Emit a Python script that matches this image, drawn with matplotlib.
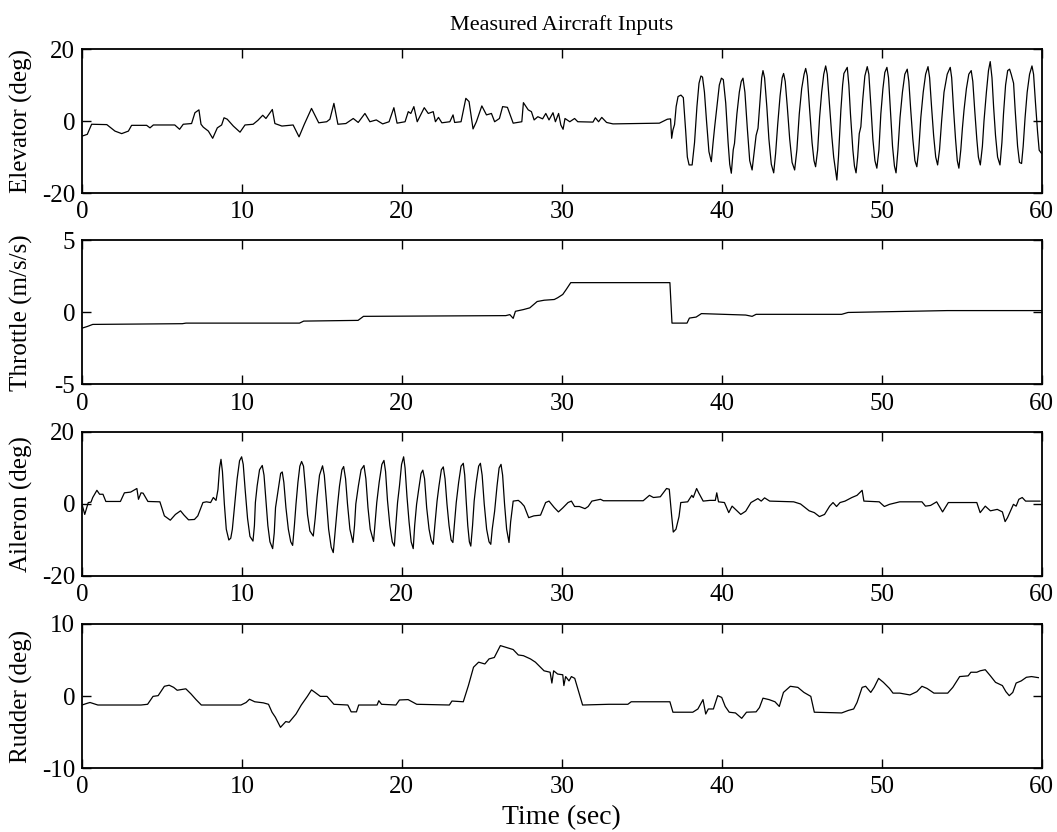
import numpy as np
import matplotlib.pyplot as plt

# 読み取った値 (time sec, value)
elevator_pts = [
    (0, -4.2), (0.33, -3.7), (0.6, -0.9), (1.55, -1.0), (2.06, -2.8), (2.48, -3.5), (2.9, -2.8),
    (3.1, -1.2), (4.04, -1.2), (4.25, -1.9), (4.46, -1.1), (5.8, -1.1), (6.1, -2.3), (6.33, -0.9),
    (6.85, -0.7), (7.06, 2.3), (7.31, 3.1), (7.44, -0.9), (7.58, -1.7), (7.9, -2.8), (8.17, -4.8),
    (8.46, -1.9), (8.73, -1.1), (8.88, 0.9), (9.08, 0.5), (9.46, -1.4), (9.88, -3.1), (10.19, -1.1),
    (10.7, -0.9), (11.0, 0.2), (11.3, 1.6), (11.5, 0.7), (11.9, 3.2), (12.06, -0.7), (12.5, -1.4),
    (13.2, -1.1), (13.57, -4.4), (13.9, -0.9), (14.35, 3.5), (14.8, -0.5), (15.3, -0.2), (15.5, 0.5),
    (15.75, 4.9), (16.0, -0.9), (16.5, -0.7), (16.96, 0.7), (17.27, -0.4), (17.69, 2.1), (18.0, -0.2),
    (18.4, 0.3), (18.8, -0.8), (19.2, -0.2), (19.5, 3.7), (19.7, -0.6), (20.2, -0.2), (20.4, 2.6),
    (20.56, 2.1), (20.75, 4.0), (20.96, -0.2), (21.4, 3.7), (21.65, 2.1), (21.96, 2.6), (22.1, -0.2),
    (22.29, 1.0), (22.5, -0.5), (23.0, -0.2), (23.2, 1.7), (23.3, -0.4), (23.7, -0.2), (24.0, 6.3),
    (24.2, 5.4), (24.45, -2.2), (24.66, -0.2), (25.0, 4.2), (25.29, 1.7), (25.6, 2.1), (25.8, -0.2),
    (26.1, 0.7), (26.3, 4.0), (26.6, 3.8), (26.96, -0.6), (27.5, -0.2), (27.6, 5.1), (27.9, 3.1),
    (28.1, 2.6), (28.27, 0.3), (28.5, 1.2), (28.8, 0.6), (29.0, 2.1), (29.2, 0.3), (29.45, 2.3),
    (29.6, -0.2), (29.8, 2.1), (29.94, -1.1), (30.08, -2.3), (30.2, 0.7), (30.5, -0.2), (30.8, 0.7),
    (31.0, -0.2), (31.95, -0.3), (32.1, 0.9), (32.3, -0.2), (32.5, 1.0), (32.8, -0.4), (33.2, -0.8),
    (36.1, -0.6), (36.6, 0.5), (36.8, 0.6), (36.87, -4.8), (36.95, -2.5), (37.05, -1.0), (37.15, 4.0),
    (37.27, 6.8), (37.45, 7.2), (37.6, 6.5), (37.75, -3), (37.85, -10), (37.96, -12.2), (38.15, -12.2),
    (38.3, -6), (38.45, 4), (38.58, 10.5), (38.7, 12.5), (38.8, 12.2), (38.92, 8), (39.05, 0),
    (39.2, -8.5), (39.35, -11.3), (39.46, -6), (39.56, -1.6), (39.7, 4), (39.85, 10), (39.98, 11.9),
    (40.1, 11.5), (40.25, 5), (40.4, -6), (40.5, -12), (40.6, -14.5), (40.72, -8), (40.8, -6.2),
    (40.95, 2), (41.1, 8), (41.22, 11), (41.33, 11.9), (41.45, 8), (41.6, -2), (41.75, -11),
    (41.9, -13.6), (42.02, -9), (42.15, -4), (42.27, -2), (42.4, 6), (42.5, 12), (42.58, 14.0),
    (42.68, 12), (42.82, 4), (42.95, -5), (43.1, -12), (43.25, -14.4), (43.37, -9), (43.5, -1),
    (43.65, 7), (43.78, 12), (43.87, 13.2), (43.97, 11), (44.1, 4), (44.25, -5), (44.4, -11.5),
    (44.56, -13.6), (44.7, -8), (44.85, 2), (45.0, 9), (45.15, 13), (45.25, 14.6), (45.35, 12.5),
    (45.5, 3), (45.65, -6), (45.77, -11), (45.87, -12.7), (46.0, -8), (46.12, 1), (46.25, 8),
    (46.38, 13), (46.5, 15.3), (46.6, 13), (46.73, 5), (46.88, -4), (47.0, -10), (47.2, -16.4),
    (47.3, -10), (47.45, 3), (47.56, 10), (47.64, 13.2), (47.85, 14.9), (47.95, 10), (48.05, 2),
    (48.2, -8), (48.3, -12.5), (48.4, -14.4), (48.5, -10), (48.6, -3.5), (48.7, -1.6), (48.82, 6),
    (48.95, 12.5), (49.1, 15.1), (49.2, 13), (49.33, 4), (49.45, -5), (49.58, -11), (49.7, -13.1),
    (49.83, -8), (49.95, 2), (50.08, 9), (50.2, 13.5), (50.33, 14.9), (50.43, 12), (50.55, 3),
    (50.68, -7), (50.8, -12.5), (50.9, -14.4), (51.02, -8), (51.15, 1), (51.3, 8), (51.45, 13),
    (51.6, 14.4), (51.7, 11), (51.82, 3), (51.95, -5), (52.08, -11), (52.2, -12.7), (52.32, -8),
    (52.45, 1), (52.6, 8), (52.75, 13), (52.9, 15.1), (53.0, 12), (53.12, 4), (53.25, -4),
    (53.38, -10), (53.5, -12.2), (53.62, -8), (53.75, 0), (53.9, 8), (54.1, 13), (54.29, 14.9),
    (54.38, 12), (54.5, 3), (54.62, -5), (54.73, -11), (54.83, -13.1), (54.95, -8), (55.05, -2),
    (55.15, 3), (55.3, 9), (55.45, 13), (55.6, 14.0), (55.7, 11), (55.82, 3), (55.95, -5),
    (56.05, -10), (56.17, -12.2), (56.3, -7), (56.4, 0), (56.55, 8), (56.68, 14), (56.79, 16.5),
    (56.9, 12), (57.0, 4), (57.12, -4), (57.25, -10), (57.4, -12.2), (57.52, -6), (57.62, 2),
    (57.75, 10), (57.88, 14), (58.0, 14.4), (58.1, 13), (58.25, 10.5), (58.35, 3), (58.5, -7),
    (58.62, -11.5), (58.75, -11.8), (58.85, -7), (58.97, 1), (59.1, 8), (59.25, 13), (59.4, 15.3),
    (59.5, 13), (59.62, 5), (59.75, -3), (59.85, -8.1), (60.0, -9),
]

throttle_pts = [
    (0, -1.09), (0.34, -0.97), (0.67, -0.83), (6.27, -0.78), (6.5, -0.74), (13.6, -0.74),
    (13.86, -0.6), (17.26, -0.55), (17.6, -0.27), (26.5, -0.22), (26.75, -0.15), (26.96, -0.41),
    (27.1, 0.08), (27.6, 0.2), (28.0, 0.32), (28.46, 0.76), (28.9, 0.85), (29.53, 0.9),
    (29.74, 1.02), (30.06, 1.25), (30.28, 1.6), (30.56, 2.07), (36.76, 2.07), (36.89, -0.74),
    (37.83, -0.74), (37.98, -0.39), (38.4, -0.32), (38.73, -0.08), (41.5, -0.18), (41.9, -0.27),
    (42.15, -0.13), (47.5, -0.13), (47.9, 0.0), (54.1, 0.13), (60.0, 0.13),
]

aileron_pts = [
    (0, -0.1), (0.17, -2.9), (0.39, 0.4), (0.56, 0.5), (0.67, 1.8), (0.93, 3.8), (1.1, 2.7),
    (1.31, 2.7), (1.49, 0.7), (2.4, 0.7), (2.65, 3.1), (3.04, 3.3), (3.43, 4.3), (3.53, 1.3),
    (3.69, 3.1), (3.82, 3.0), (4.12, 0.7), (4.87, 0.6), (5.15, -3.3), (5.52, -4.5), (5.84, -2.9),
    (6.16, -1.9), (6.38, -3.1), (6.66, -4.4), (7.03, -4.3), (7.24, -3.3), (7.56, 0.4), (7.78, 0.6),
    (8.04, 0.4), (8.21, 1.8), (8.38, 1.0), (8.5, 4), (8.6, 10), (8.69, 12.4), (8.78, 9), (8.9, 0),
    (9.02, -7), (9.18, -10), (9.3, -9.5), (9.4, -7), (9.55, 0), (9.7, 7), (9.85, 12), (9.98, 13.1),
    (10.08, 11), (10.2, 4), (10.35, -4), (10.5, -9), (10.69, -10.3), (10.78, -6), (10.84, 0.4),
    (10.95, 5), (11.1, 9.5), (11.27, 10.7), (11.38, 8), (11.5, 1), (11.62, -6), (11.75, -10.5),
    (11.92, -12.4), (12.02, -8), (12.1, -1), (12.16, 0.8), (12.3, 5), (12.42, 8.5), (12.52, 8.9),
    (12.62, 6), (12.75, -1), (12.9, -7), (13.05, -10.5), (13.17, -11.5), (13.28, -6), (13.38, 0),
    (13.5, 6), (13.62, 10.5), (13.73, 11.8), (13.85, 10.5), (13.98, 4), (14.1, -3), (14.25, -7.5),
    (14.46, -8.9), (14.58, -4), (14.7, 2), (14.85, 8), (15.04, 10.6), (15.15, 8), (15.28, 1),
    (15.42, -7), (15.58, -12), (15.71, -13.5), (15.82, -8), (15.97, -0.6), (16.1, 5), (16.25, 9.5),
    (16.36, 10.4), (16.48, 7), (16.6, 0), (16.75, -7), (16.94, -10.7), (17.04, -6), (17.12, 0),
    (17.28, 5), (17.45, 9.5), (17.63, 10.7), (17.75, 7), (17.88, -1), (18.02, -7), (18.23, -10.4),
    (18.33, -5), (18.43, 0.4), (18.58, 6), (18.75, 11), (18.88, 12.1), (18.98, 9), (19.1, 1),
    (19.25, -6), (19.4, -10.5), (19.53, -11.7), (19.62, -6), (19.73, 0.4), (19.85, 5), (19.98, 11),
    (20.11, 13.1), (20.2, 10), (20.32, 2), (20.45, -5), (20.58, -10.5), (20.71, -12.4), (20.8, -6),
    (20.92, -0.1), (21.05, 4), (21.2, 8.5), (21.31, 9.4), (21.42, 7), (21.55, -1), (21.7, -7),
    (21.83, -10), (21.96, -11.2), (22.06, -6), (22.2, 0.8), (22.32, 5), (22.47, 9.5), (22.59, 10.3),
    (22.7, 7), (22.82, 0), (22.95, -6), (23.08, -10), (23.19, -10.7), (23.3, -5), (23.4, 0.4),
    (23.55, 6), (23.7, 10.5), (23.84, 11.3), (23.93, 8), (24.02, 1), (24.12, -6), (24.22, -10.5),
    (24.31, -11.7), (24.42, -6), (24.52, 0.8), (24.65, 6), (24.8, 10.5), (24.91, 11.3), (25.02, 8),
    (25.15, 0), (25.3, -7), (25.45, -10.5), (25.56, -11.2), (25.65, -7), (25.8, -2), (25.95, 5),
    (26.08, 10), (26.2, 11), (26.3, 8), (26.42, 0), (26.55, -7), (26.7, -10.7), (26.8, -5),
    (26.96, 0.8), (27.28, 1.0), (27.45, 0.4), (27.65, -0.6), (27.93, -3.8), (28.25, -3.3),
    (28.67, -3.1), (28.99, 0.4), (29.2, 0.8), (29.53, -1.0), (29.79, -2.2), (30.06, -1.1),
    (30.39, 0.4), (30.6, 0.8), (30.8, -0.7), (31.1, -0.7), (31.45, -1.3), (31.65, -0.7),
    (31.88, 0.8), (32.42, 1.3), (32.6, 0.9), (35.09, 0.9), (35.48, 2.4), (35.73, 1.8), (36.16, 2.0),
    (36.55, 4.3), (36.72, 4.1), (36.87, -3.3), (36.97, -7.8), (37.14, -7.0), (37.33, -3.5),
    (37.44, 0.4), (37.87, 0.6), (38.13, 2.4), (38.22, 1.8), (38.43, 4.3), (38.56, 3.1), (38.84, 0.8),
    (39.26, 1.0), (39.6, 1.0), (39.69, 3.1), (39.8, 0.6), (40.17, 0.4), (40.44, -2.4), (40.65, -0.6),
    (40.86, -1.5), (41.19, -2.9), (41.5, -2.0), (41.83, 0.4), (42.26, 1.5), (42.47, 0.8),
    (42.68, 1.7), (43.0, 0.8), (44.5, 0.6), (44.93, 0.0), (45.47, -1.9), (45.79, -2.4),
    (46.11, -3.5), (46.43, -2.9), (46.75, -0.6), (46.96, 0.4), (47.18, -0.7), (47.4, 0.4),
    (47.71, 0.8), (48.14, 1.8), (48.46, 2.4), (48.78, 3.8), (48.89, 0.8), (49.85, 0.6),
    (50.17, -0.7), (50.49, -0.1), (51.13, 0.6), (52.52, 0.6), (52.74, -0.6), (53.06, -0.4),
    (53.44, 0.6), (53.81, -2.2), (54.17, 0.4), (55.95, 0.4), (56.16, -2.4), (56.48, -0.6),
    (56.8, -1.9), (57.23, -1.5), (57.55, -2.2), (57.72, -4.9), (57.87, -3.8), (58.24, -0.1),
    (58.41, -0.6), (58.58, 1.3), (58.79, 1.8), (59.0, 0.8), (59.9, 0.8),
]

rudder_pts = [
    (0, -1.25), (0.34, -1.0), (0.5, -0.9), (0.78, -1.1), (0.99, -1.25), (3.69, -1.25), (4.1, -1.15),
    (4.44, -0.05), (4.76, 0.05), (5.15, 1.35), (5.45, 1.5), (5.73, 1.2), (5.95, 0.8), (6.49, 1.0),
    (6.81, 0.3), (7.13, -0.5), (7.46, -1.25), (9.94, -1.25), (10.26, -0.9), (10.47, -0.45),
    (10.8, -0.8), (11.34, -0.95), (11.66, -1.15), (11.88, -2.25), (12.09, -2.95), (12.41, -4.35),
    (12.74, -3.55), (12.95, -3.65), (13.38, -2.5), (13.71, -1.25), (14.09, -0.05), (14.35, 0.85),
    (14.57, 0.5), (14.9, -0.05), (15.32, -0.05), (15.75, -1.15), (16.62, -1.25), (16.83, -2.2),
    (17.16, -2.2), (17.3, -1.25), (18.45, -1.25), (18.56, -0.65), (18.73, -1.15), (19.63, -1.25),
    (19.85, -0.55), (20.39, -0.5), (20.93, -1.15), (22.97, -1.25), (23.13, -0.7), (23.84, -0.8),
    (24.16, 1.45), (24.48, 4.0), (24.8, 4.7), (25.19, 4.45), (25.45, 5.15), (25.78, 5.35),
    (26.16, 7.0), (26.53, 6.75), (26.96, 6.45), (27.28, 5.7), (27.6, 5.6), (28.04, 5.15),
    (28.35, 4.7), (28.89, 3.5), (29.27, 3.3), (29.38, 1.8), (29.49, 3.5), (29.74, 3.05),
    (30.06, 2.95), (30.13, 1.45), (30.24, 2.7), (30.45, 2.1), (30.6, 2.7), (30.81, 2.45),
    (31.07, 0.5), (31.3, -1.25), (32.95, -1.15), (34.13, -1.15), (34.34, -0.8), (36.76, -0.8),
    (36.95, -2.25), (38.19, -2.25), (38.51, -1.8), (38.83, -0.5), (39.0, -2.5), (39.16, -1.8),
    (39.48, -1.8), (39.75, 0.05), (40.0, -0.2), (40.22, -1.45), (40.47, -2.25), (40.86, -2.35),
    (41.25, -3.1), (41.55, -2.25), (42.15, -2.2), (42.36, -1.6), (42.58, -0.3), (42.96, -0.5),
    (43.33, -0.8), (43.6, -1.45), (43.86, 0.5), (44.29, 1.35), (44.76, 1.2), (45.14, 0.5),
    (45.57, -0.05), (45.79, -2.25), (47.5, -2.35), (47.92, -2.0), (48.25, -1.8), (48.46, -0.9),
    (48.78, 1.2), (49.0, 1.35), (49.32, 0.5), (49.53, 1.2), (49.81, 2.45), (50.11, 1.9),
    (50.49, 1.05), (50.71, 0.4), (51.13, 0.4), (51.77, 0.15), (52.2, 0.6), (52.52, 1.35),
    (52.84, 1.05), (53.27, 0.4), (54.13, 0.4), (54.45, 1.2), (54.88, 2.7), (55.41, 2.8),
    (55.58, 3.3), (55.95, 3.3), (56.16, 3.5), (56.48, 3.65), (56.8, 2.8), (57.12, 1.9),
    (57.55, 1.45), (57.77, 0.6), (57.98, 0.05), (58.2, 0.5), (58.41, 1.8), (58.73, 2.1),
    (59.05, 2.6), (59.37, 2.7), (59.8, 2.55),
]

channels = [
    ("Elevator (deg)", elevator_pts, [-20, 0, 20]),
    ("Throttle (m/s/s)", throttle_pts, [-5, 0, 5]),
    ("Aileron (deg)", aileron_pts, [-20, 0, 20]),
    ("Rudder (deg)", rudder_pts, [-10, 0, 10]),
]
time_ticks = [0, 10, 20, 30, 40, 50, 60]


def main():
    plt.rcParams['font.family'] = ['Liberation Serif', 'DejaVu Serif']
    plt.rcParams['axes.unicode_minus'] = False  # MATLABと同じくハイフンで

    fig = plt.figure(figsize=(10.57, 8.32), dpi=100)

    # MATLAB風の subplot(4,1,k) 配置
    left, width, height = 0.0776, 0.9078, 0.1731
    bottoms = [0.768, 0.5379, 0.3077, 0.0769]

    axes = []
    for k, (label, pts, yticks) in enumerate(channels):
        ax = fig.add_axes([left, bottoms[k], width, height])
        t, v = np.array(pts).T
        ax.plot(t, v, color='black', lw=0.9)
        ax.set_xlim(0, 60)
        ax.set_ylim(yticks[0], yticks[-1])
        ax.set_xticks(time_ticks)
        ax.set_yticks(yticks)
        ax.tick_params(direction='in', length=6.5, width=1, labelsize=18,
                       top=True, right=True)
        ax.tick_params(axis='x', pad=6)
        ax.tick_params(axis='y', pad=5)
        ax.set_ylabel(label, fontsize=18)
        ax.yaxis.set_label_coords(-0.051, 0.5)
        for s in ax.spines.values():
            s.set_linewidth(1.3)
        axes.append(ax)

    # タイトルとx軸ラベル
    axes[0].text(0.5, 1.132, "Measured Aircraft Inputs", transform=axes[0].transAxes,
                 ha='center', va='baseline', fontsize=16)
    axes[-1].text(0.5, -0.39, "Time (sec)", transform=axes[-1].transAxes,
                  ha='center', va='baseline', fontsize=20)

    fig.savefig("out.png", dpi=100)


if __name__ == "__main__":
    main()
